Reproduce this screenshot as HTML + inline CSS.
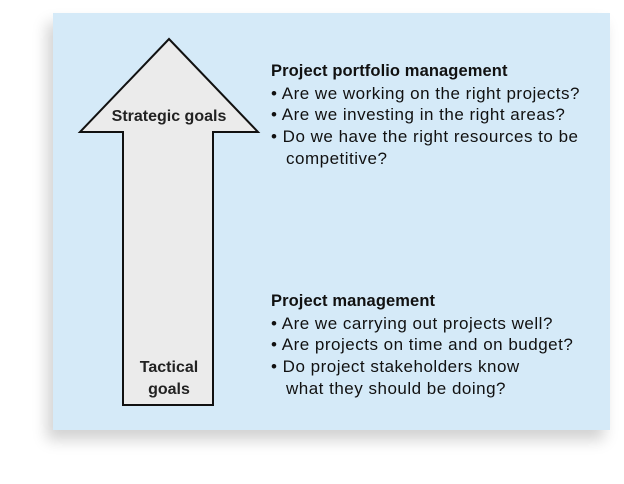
<!DOCTYPE html>
<html><head><style>
body{margin:0;width:624px;height:484px;background:#fff;position:relative;overflow:hidden;font-family:"Liberation Sans",sans-serif;}
.box{position:absolute;left:53px;top:13px;width:557px;height:417px;background:#d5eaf8;box-shadow:-6px 10px 14px rgba(0,0,0,0.18);}
.t{position:absolute;left:271px;font-size:17px;line-height:21.7px;color:#111;letter-spacing:0.5px;}
.t b{display:block;font-size:16.5px;letter-spacing:0.1px}
.t div{padding-left:15px;text-indent:-15px}
</style></head><body>
<div class="box"></div>
<svg style="position:absolute;left:0;top:0" width="624" height="484">
<polygon points="169,39 258,132 213,132 213,405 123,405 123,132 80,132" fill="#ebebeb" stroke="#111" stroke-width="2"/>
<text x="169" y="121" font-family="Liberation Sans" font-size="16" font-weight="bold" text-anchor="middle" fill="#222">Strategic goals</text>
<text x="169" y="372" font-family="Liberation Sans" font-size="16" font-weight="bold" text-anchor="middle" fill="#222">Tactical</text>
<text x="169" y="394" font-family="Liberation Sans" font-size="16" font-weight="bold" text-anchor="middle" fill="#222">goals</text>
</svg>
<div class="t" style="top:61px"><b>Project portfolio management</b>
<div>• Are we working on the right projects?</div>
<div>• Are we investing in the right areas?</div>
<div>• Do we have the right resources to be<br>competitive?</div></div>
<div class="t" style="top:291px"><b>Project management</b>
<div>• Are we carrying out projects well?</div>
<div>• Are projects on time and on budget?</div>
<div>• Do project stakeholders know<br>what they should be doing?</div></div>
</body></html>
